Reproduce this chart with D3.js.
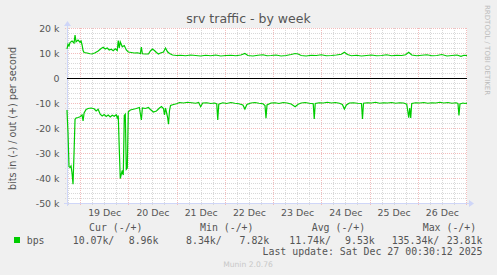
<!DOCTYPE html>
<html>
<head>
<meta charset="utf-8">
<script src="https://cdn.jsdelivr.net/npm/d3@7"></script>
<style>
  body { margin: 0; background: #f0f0f0; }
  svg { display: block; }
  text { font-family: "DejaVu Sans", sans-serif; fill: #555; }
  .mono { font-family: "DejaVu Sans Mono", monospace; font-size: 9.9px; }
</style>
</head>
<body>
<div id="chart"></div>
<script>
// out (+) traffic, hours after Dec 18 17:30, values in k bits/s
const outHours = [0,0.5,1,1.5,2.5,3.5,4,4.5,5.5,6.5,7,7.5,8,8.5,10,11.5,12.5,14,15.5,17,18,19,20,21,22,23,24,25,25.5,26,26.5,27.5,28.5,29.5,30.5,32,33.5,35,36.5,37,37.5,39,40.5,41.5,42.5,43.5,44.5,45.5,46.5,48,49,50,51,52.5,54.5,56.5,59,61.5,64,66.5,69,71.5,74,76.5,79,81.5,84,86.5,88.5,90,92.5,95,97.5,99.5,101.5,104,106.5,109,111.5,113.5,115,116.5,119,121.5,124,126.5,129,131.5,134,136.5,138,139.5,141.5,144,146.5,149,151.5,154,156.5,159,161.5,164,166.5,168.5,170,171.5,174,176.5,179,181.5,184,186.5,189,191.5,194,196,197.5,199];
const outK = [11.6,13.5,12.8,14.2,14.8,14.0,17.2,14.5,15.2,14.3,14.8,13.2,11.0,10.2,10.0,9.7,9.6,10.1,10.8,11.8,12.3,11.6,12.0,11.2,11.5,10.9,11.7,11.0,15.0,12.0,14.4,12.5,13.0,11.2,10.4,10.2,10.0,10.1,9.8,12.4,9.7,9.6,9.6,10.8,11.6,11.0,10.2,9.6,10.0,10.4,12.0,10.5,9.8,9.2,9.0,9.1,8.9,9.2,9.0,8.8,9.1,8.9,9.2,8.8,9.0,9.1,8.9,9.2,9.8,9.0,8.8,9.1,9.3,8.9,9.0,9.2,8.8,9.0,9.4,9.8,9.6,9.0,8.8,9.1,9.0,9.3,8.9,9.0,9.2,9.5,10.3,9.4,8.9,9.1,8.8,9.0,9.2,8.9,9.0,9.3,8.9,9.1,9.0,9.3,10.3,9.2,8.9,9.1,9.3,8.9,9.0,9.4,8.8,9.0,9.2,8.7,9.1,8.96];

// in (-) traffic, same time base, drawn below zero
const inHours = [0,0.5,1,1.5,2,2.5,3,3.5,4,4.5,5.5,6.5,7.5,8,8.5,9.5,10.5,12,13.5,14.5,15.5,16.5,17.5,18.5,19.5,20.5,21.5,22.5,23.5,24.5,25,25.5,26,26.5,27,27.5,28,28.5,29,29.5,30,30.5,31.5,33,34.5,36,37,37.5,39,40.5,41.5,43,44.5,46,47,48,48.5,49,50,50.5,51,51.5,53,54.5,56,58,60,62,64,65.5,66.5,67.5,69.5,71.5,73.5,74.5,75,75.5,77.5,79.5,81.5,83.5,85.5,87.5,88.5,89.5,91.5,93.5,95.5,97.5,98.5,99,99.5,101.5,103.5,105.5,107.5,109.5,111.5,113.5,115,116.5,118.5,120.5,122.5,123,123.5,125.5,127.5,129.5,131.5,133.5,135.5,137,138,139,140.5,142.5,144.5,146.5,147,147.5,149.5,151.5,153.5,155.5,157.5,159.5,161.5,163.5,165.5,167.5,169,169.5,170,170.5,171,171.5,173.5,175.5,177.5,179.5,181.5,183.5,185.5,187.5,189.5,191.5,193.5,194.5,195,195.5,197,198,199];
const inK = [12.8,22,35.5,35.8,35.2,38,42.5,30,16.5,16.0,15.8,15.5,14.8,17.2,14.0,12.6,12.2,12.0,12.3,13.2,12.5,14.5,15.2,14.6,15.4,14.8,15.6,14.9,15.3,14.7,16.0,15.0,28,40.2,38.5,37.0,38.8,15.0,14.5,36.5,36.0,13.5,12.8,12.5,12.2,11.8,16.8,12.0,12.2,11.8,12.6,13.6,13.2,12.0,11.4,12.2,14.8,12.0,15.5,18.5,13.0,11.0,10.6,10.3,9.8,10.0,9.7,9.9,10.1,9.8,11.5,10.0,9.9,10.2,10.0,10.4,16.8,10.5,9.9,10.2,9.8,10.1,10.3,10.8,12.4,10.6,10.0,9.8,10.1,10.3,11.0,16.1,10.8,10.0,9.9,10.2,9.8,10.0,10.4,11.5,10.5,10.0,9.8,10.1,10.3,16.4,10.2,9.9,10.0,9.7,10.0,9.8,10.1,10.6,12.4,10.8,10.0,9.9,10.1,10.2,16.4,10.1,9.9,10.0,9.7,10.1,9.9,10.0,9.8,10.1,9.9,10.0,10.5,13.0,15.9,12.0,16.0,10.2,9.9,10.0,9.8,10.1,9.9,10.0,9.7,10.0,9.8,10.1,9.9,10.2,15.0,10.4,10.0,10.2,10.07];

const yTicks = [20, 10, 0, -10, -20, -30, -40, -50];
const dayLabels = ["19 Dec","20 Dec","21 Dec","22 Dec","23 Dec","24 Dec","25 Dec","26 Dec"];
const legendHeads = ["Cur (-/+)", "Min (-/+)", "Avg (-/+)", "Max (-/+)"];
const legendIn = ["10.07k/", "8.34k/", "11.74k/", "135.34k/"];
const legendOut = ["8.96k", "7.82k", "9.53k", "23.81k"];

const width = 497, height = 275;
const plotLeft = 67, plotRight = 467, plotTop = 28, plotBottom = 203;
const start = new Date(2025, 11, 18, 17, 30);
const end = new Date(2025, 11, 27, 0, 30);

const x = d3.scaleTime().domain([start, end]).range([plotLeft, plotRight]);
const y = d3.scaleLinear().domain([-50, 20]).range([plotBottom, plotTop]);
const toDate = h => new Date(start.getTime() + h * 3600e3);

const svg = d3.select('#chart').append('svg')
  .attr('width', width)
  .attr('height', height);

svg.append('rect').attr('width', width).attr('height', height).attr('fill', '#f0f0f0');
svg.append('rect')
  .attr('x', plotLeft).attr('y', plotTop)
  .attr('width', plotRight - plotLeft).attr('height', plotBottom - plotTop)
  .attr('fill', '#fff');

// grid
const g = svg.append('g').attr('shape-rendering', 'crispEdges');
const minorY = d3.range(-50, 20.1, 2).filter(v => v % 10 !== 0);
g.selectAll('.hminor').data(minorY).enter().append('line')
  .attr('x1', plotLeft - 2).attr('x2', plotRight)
  .attr('y1', d => Math.round(y(d)) + 0.5).attr('y2', d => Math.round(y(d)) + 0.5)
  .attr('stroke', '#d8d8d8').attr('stroke-dasharray', '1,1');
const minorX = d3.timeHour.every(6).range(start, end).filter(d => d.getHours() !== 0);
g.selectAll('.vminor').data(minorX).enter().append('line')
  .attr('x1', d => Math.round(x(d)) + 0.5).attr('x2', d => Math.round(x(d)) + 0.5)
  .attr('y1', plotTop).attr('y2', plotBottom + 2)
  .attr('stroke', '#d8d8d8').attr('stroke-dasharray', '1,1');
g.selectAll('.hmajor').data(yTicks.filter(v => v !== 0)).enter().append('line')
  .attr('x1', plotLeft - 2).attr('x2', plotRight)
  .attr('y1', d => Math.round(y(d)) + 0.5).attr('y2', d => Math.round(y(d)) + 0.5)
  .attr('stroke', '#f2bcbc').attr('stroke-dasharray', '1,1');
const days = d3.timeDay.range(start, end);
g.selectAll('.vmajor').data(days).enter().append('line')
  .attr('x1', d => Math.round(x(d)) + 0.5).attr('x2', d => Math.round(x(d)) + 0.5)
  .attr('y1', plotTop).attr('y2', plotBottom + 2)
  .attr('stroke', '#f2bcbc').attr('stroke-dasharray', '1,1');

// axes lines and arrows
svg.append('line')
  .attr('x1', plotLeft - 3).attr('x2', plotRight + 3)
  .attr('y1', plotBottom + 0.5).attr('y2', plotBottom + 0.5)
  .attr('stroke', '#cfd6f8');
svg.append('path')
  .attr('d', `M${plotRight + 2},${plotBottom - 3}L${plotRight + 7},${plotBottom + 0.5}L${plotRight + 2},${plotBottom + 4}Z`)
  .attr('fill', '#cfd6f8');
svg.append('line')
  .attr('x1', plotLeft + 0.5).attr('x2', plotLeft + 0.5)
  .attr('y1', plotBottom + 3).attr('y2', plotTop - 3)
  .attr('stroke', '#cfd6f8');
svg.append('path')
  .attr('d', `M${plotLeft - 3},${plotTop - 2}L${plotLeft + 0.5},${plotTop - 7}L${plotLeft + 4},${plotTop - 2}Z`)
  .attr('fill', '#cfd6f8');

// zero line
svg.append('line')
  .attr('x1', plotLeft).attr('x2', plotRight)
  .attr('y1', Math.round(y(0)) + 0.5).attr('y2', Math.round(y(0)) + 0.5)
  .attr('stroke', '#000').attr('shape-rendering', 'crispEdges');

// y labels
const yAxis = d3.axisLeft(y)
  .tickValues(yTicks)
  .tickSize(0)
  .tickPadding(0)
  .tickFormat(v => v === 0 ? '0' : `${v} k`);
const yAxisG = svg.append('g').attr('transform', `translate(${plotLeft - 7.5},0)`).call(yAxis);
yAxisG.select('.domain').remove();
yAxisG.selectAll('text')
  .attr('font-family', '"DejaVu Sans", sans-serif')
  .attr('font-size', '9.4px')
  .attr('fill', '#555')
  .attr('dy', '0.34em');

// x labels at noon
const xAxis = d3.axisBottom(x)
  .tickValues(days.map(d => d3.timeHour.offset(d, 12)))
  .tickSize(0)
  .tickPadding(0)
  .tickFormat((d, i) => dayLabels[i]);
const xAxisG = svg.append('g').attr('transform', `translate(0,${plotBottom + 6})`).call(xAxis);
xAxisG.select('.domain').remove();
xAxisG.selectAll('text')
  .attr('font-family', '"DejaVu Sans", sans-serif')
  .attr('font-size', '9.4px')
  .attr('fill', '#555')
  .attr('dy', '0.75em');

// data lines
const line = d3.line().x(d => x(d.t)).y(d => y(d.v));
const outData = outHours.map((h, i) => ({ t: toDate(h), v: outK[i] }));
const inData = inHours.map((h, i) => ({ t: toDate(h), v: -inK[i] }));
svg.append('path').attr('d', line(outData))
  .attr('fill', 'none').attr('stroke', '#00cc00').attr('stroke-width', 1.2);
svg.append('path').attr('d', line(inData))
  .attr('fill', 'none').attr('stroke', '#00cc00').attr('stroke-width', 1.2);

// titles
svg.append('text')
  .attr('x', 248.5).attr('y', 23)
  .attr('text-anchor', 'middle')
  .attr('font-size', '12.5px')
  .text('srv traffic - by week');
svg.append('text')
  .attr('transform', `translate(16,${(plotTop + plotBottom) / 2 + 3}) rotate(-90)`)
  .attr('text-anchor', 'middle')
  .attr('font-size', '9.6px')
  .text('bits in (-) / out (+) per second');
svg.append('text')
  .attr('transform', 'translate(485,5) rotate(90)')
  .attr('font-size', '7px')
  .style('fill', '#bbb')
  .text('RRDTOOL / TOBI OETIKER');

// legend
const headX = [89, 200, 311.7, 422.7];
const inX = [72.7, 186, 289.3, 391.7];
const outX = [128.7, 239.5, 345, 446.7];
svg.selectAll('.lh').data(legendHeads).enter().append('text')
  .attr('class', 'mono').attr('x', (d, i) => headX[i]).attr('y', 230.5).text(d => d);
svg.selectAll('.li').data(legendIn).enter().append('text')
  .attr('class', 'mono').attr('x', (d, i) => inX[i]).attr('y', 243.5).text(d => d);
svg.selectAll('.lo').data(legendOut).enter().append('text')
  .attr('class', 'mono').attr('x', (d, i) => outX[i]).attr('y', 243.5).text(d => d);
svg.append('rect')
  .attr('x', 14).attr('y', 237).attr('width', 6).attr('height', 6)
  .attr('fill', '#00cc00');
svg.append('text').attr('class', 'mono').attr('x', 26.7).attr('y', 243.5).text('bps');
svg.append('text').attr('class', 'mono')
  .attr('x', 482.5).attr('y', 255).attr('text-anchor', 'end')
  .text('Last update: Sat Dec 27 00:30:12 2025');
svg.append('text')
  .attr('x', 248).attr('y', 267)
  .attr('text-anchor', 'middle')
  .attr('font-size', '7.6px')
  .style('fill', '#c8c8c8')
  .text('Munin 2.0.76');
</script>
</body>
</html>
